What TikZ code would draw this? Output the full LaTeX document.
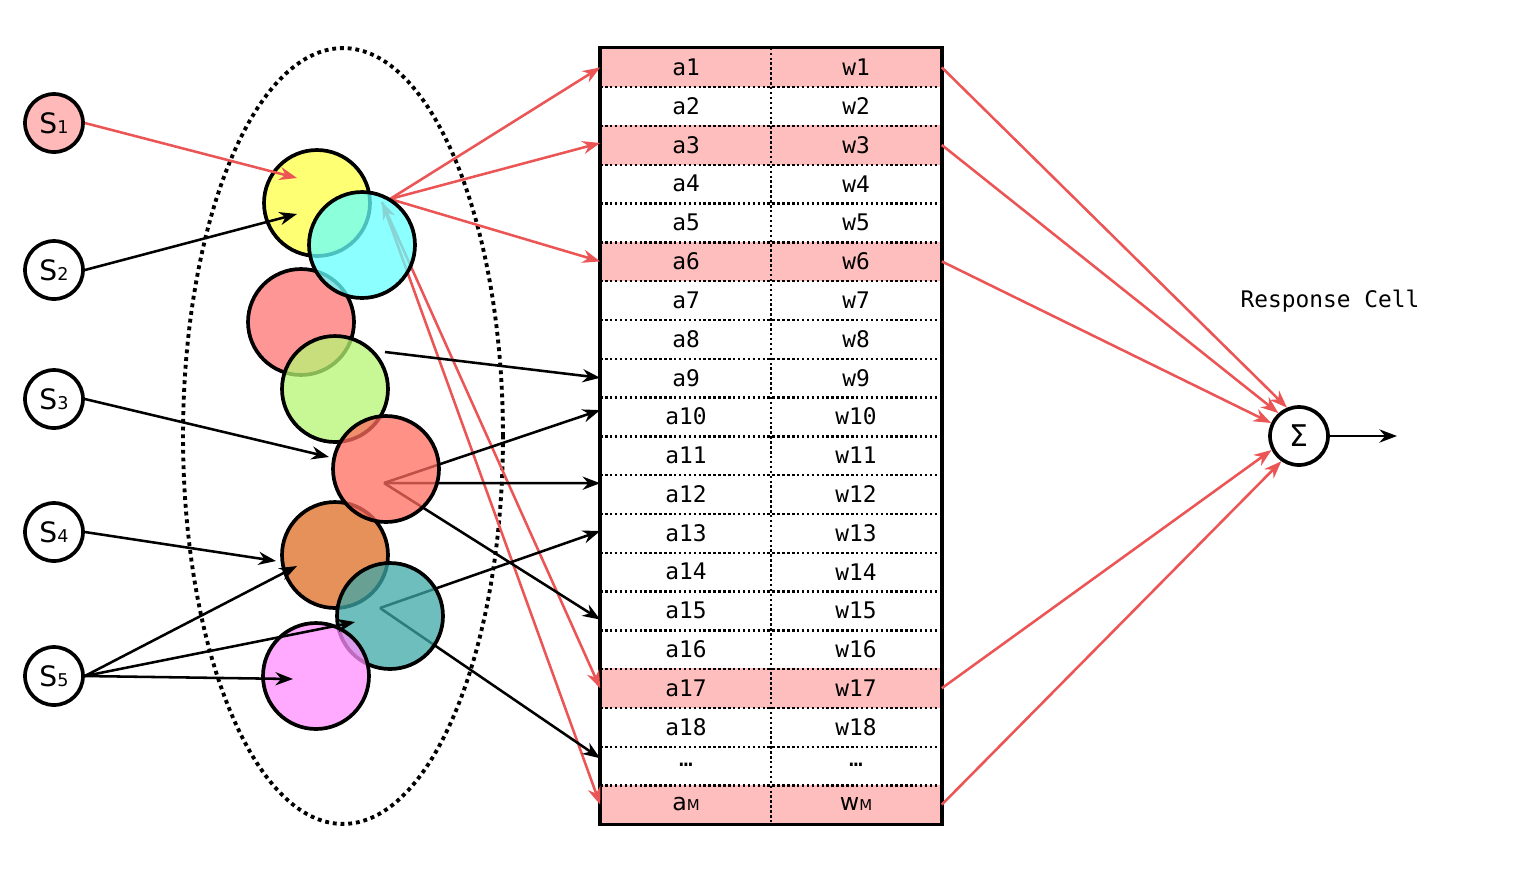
\documentclass[tikz,border=0pt]{standalone}
\usepackage{fontspec}
\setmainfont{DejaVu Sans}
\newfontfamily\monofont{DejaVu Sans Mono}
\usetikzlibrary{arrows.meta}

\definecolor{linered}{RGB}{235,85,85}
\definecolor{rowpink}{RGB}{255,190,190}
\definecolor{spink}{RGB}{255,185,185}
\definecolor{cyellow}{RGB}{255,255,68}
\definecolor{ccyan}{RGB}{102,255,255}
\definecolor{cred}{RGB}{255,115,115}
\definecolor{cgreen}{RGB}{182,246,115}
\definecolor{cred2}{RGB}{255,108,95}
\definecolor{corange}{RGB}{222,108,35}
\definecolor{cteal}{RGB}{62,168,168}
\definecolor{cpink}{RGB}{255,142,255}

\newcommand{\snum}[1]{{\fontsize{16}{16}\selectfont S}{\fontsize{10}{10}\selectfont #1}}
\newcommand{\msub}[2]{{\fontsize{13.5}{14}\selectfont #1}{\fontsize{8.5}{9}\selectfont #2}}

\tikzset{
  snode/.style={circle, draw, line width=2.1pt, minimum size=1.16cm, inner sep=0pt},
  blob/.style={circle, draw, line width=2.1pt, minimum size=2.12cm, inner sep=0pt, fill opacity=0.75},
  tip/.style={},
  arr/.style={line width=1.45pt, -{Stealth[length=10pt,width=7.5pt]}},
  redarr/.style={arr, draw=linered},
  row/.style={rectangle, minimum width=6.82cm, minimum height=0.776cm, inner sep=0pt},
  cell/.style={font=\monofont\fontsize{13}{14}\selectfont},
  sep/.style={line width=1.4pt, dash pattern=on 1.4pt off 1.4pt},
  dots/.style={line width=2.2pt, dash pattern=on 2.2pt off 2.2pt},
}

\begin{document}
\begin{tikzpicture}[x=0.02cm, y=-0.02cm]
\useasboundingbox (0,0) rectangle (1532,894);

% input cells
\node[snode, fill=spink] (s1) at (54,123) {\snum{1}};
\node[snode] (s2) at (54,270) {\snum{2}};
\node[snode] (s3) at (54,399) {\snum{3}};
\node[snode] (s4) at (54,532) {\snum{4}};
\node[snode] (s5) at (54,676) {\snum{5}};

% receptive region
\draw[dots] (343,436) ellipse [x radius=3.2cm, y radius=7.76cm];

% association table
\foreach \i in {1,...,20} {
  \node[row] (r\i) at (771,{67.4+38.8*(\i-1)}) {};
}
\foreach \i in {1,3,6,17,20} {
  \fill[rowpink] (r\i.north west) rectangle (r\i.south east);
}
\foreach \i in {1,...,19} {
  \draw[sep] (r\i.south west) -- (r\i.south east);
}
\draw[sep] (r1.north) -- (r20.south);
\draw[line width=2pt] (r1.north west) rectangle (r20.south east);
\foreach \i in {1,...,18} {
  \node[cell] (a\i) at (686,{67.4+38.8*(\i-1)}) {a\i};
  \node[cell] (w\i) at (856,{67.4+38.8*(\i-1)}) {w\i};
}
\node[cell] (a19) at (686,765) {…};
\node[cell] (w19) at (856,765) {…};
\node (a20) at (686,804) {\msub{a}{M}};
\node (w20) at (856,804) {\msub{w}{M}};

% outgoing links from the active cells (under the cells)
\coordinate (o1) at (390,199);
\coordinate (o2) at (382,202);
\coordinate (o3) at (385,352);
\coordinate (o4) at (384,483);
\coordinate (o5) at (380,608);
\draw[redarr] (o1) -- (r1.west);
\draw[redarr] (o1) -- ([yshift=0.04cm]r3.west);
\draw[redarr] (o1) -- (r6.west);
\draw[redarr, {Stealth[length=10pt,width=7.5pt]}-{Stealth[length=10pt,width=7.5pt]}] (o2) -- (r17.west);
\draw[redarr] (o2) -- (r20.west);
\draw[arr] (o3) -- (r9.west);
\draw[arr] (o4) -- ([yshift=0.13cm]r10.west);
\draw[arr] (o4) -- ([yshift=0.22cm]r12.west);
\draw[arr] (o4) -- ([yshift=-0.18cm]r15.west);
\draw[arr] (o5) -- ([yshift=0.04cm]r13.west);
\draw[arr] (o5) -- ([yshift=0.15cm]r19.west);

% overlapping cells
\node[blob, fill=cyellow] (cy) at (317,203) {};
\node[blob, fill=cred] (cr) at (301,322) {};
\node[blob, fill=ccyan] (cc) at (362,245) {};
\node[blob, fill=cgreen] (cg) at (335,389) {};
\node[blob, fill=corange] (co) at (335,555) {};
\node[blob, fill=cred2] (cr2) at (386,469) {};
\node[blob, fill=cteal] (ct) at (390,616) {};
\node[blob, fill=cpink] (cp) at (316,676) {};

% incoming stimuli
\coordinate (t1) at (297,178);
\coordinate (t2) at (297,214);
\coordinate (t3) at (329,457);
\coordinate (t4) at (276,561);
\coordinate (t5) at (297,566);
\coordinate (t6) at (355,622);
\coordinate (t7) at (293,679);
\draw[redarr] (s1.east) -- (t1);
\draw[arr] (s2.east) -- (t2);
\draw[arr] (s3.east) -- (t3);
\draw[arr] (s4.east) -- (t4);
\draw[arr] (s5.east) -- (t5);
\draw[arr] (s5.east) -- (t6);
\draw[arr] (s5.east) -- (t7);

% response cell
\node[snode] (sig) at (1299,436) {\fontsize{17}{17}\selectfont Σ};
\node[font=\monofont\fontsize{13}{14}\selectfont] (rc) at (1330,301) {Response Cell};
\draw[redarr] (r1.east) -- (sig.113);
\draw[redarr] (r3.east) -- (sig.132);
\draw[redarr] (r6.east) -- (sig.155);
\draw[redarr] (r17.east) -- (sig.207);
\draw[redarr] (r20.east) -- (sig.235);
\coordinate (out) at (1397,436);
\draw[arr] (sig.east) -- (out);
\end{tikzpicture}
\end{document}
